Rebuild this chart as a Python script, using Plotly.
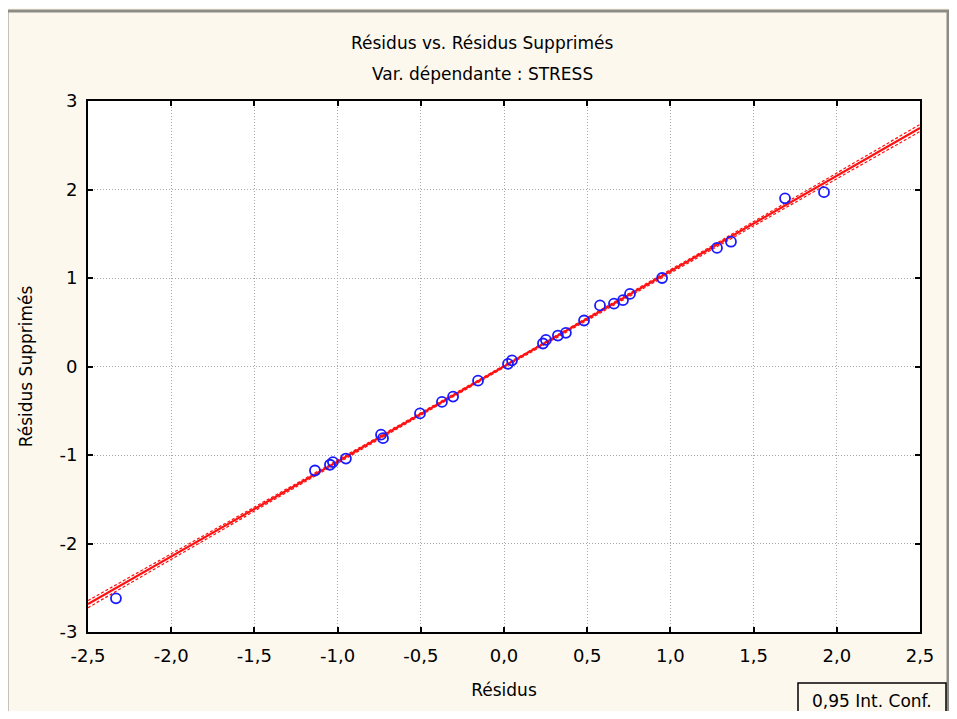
import plotly.graph_objects as go

# Observed points (Résidus, Résidus Supprimés)
residus = [-2.332, -1.136, -1.046, -1.028, -0.950, -0.739, -0.727, -0.505, -0.373,
           -0.306, -0.156, 0.024, 0.048, 0.234, 0.252, 0.324, 0.372, 0.481, 0.577,
           0.661, 0.715, 0.757, 0.950, 1.280, 1.364, 1.689, 1.923]
residus_suppr = [-2.62, -1.175, -1.11, -1.08, -1.04, -0.77, -0.81, -0.53, -0.40,
                 -0.34, -0.16, 0.03, 0.07, 0.26, 0.30, 0.35, 0.38, 0.52, 0.69,
                 0.71, 0.75, 0.82, 1.00, 1.34, 1.41, 1.90, 1.97]

# Regression line and 0.95 confidence band
fit_x = [-2.5, -1.25, 0.0, 1.25, 2.5]
fit_y = [-2.685, -1.343, 0.0, 1.345, 2.695]
band_lo = [-2.725, -1.362, -0.012, 1.326, 2.655]
band_hi = [-2.645, -1.324, 0.012, 1.364, 2.735]

x_ticks = [-2.5, -2.0, -1.5, -1.0, -0.5, 0.0, 0.5, 1.0, 1.5, 2.0, 2.5]
x_ticklabels = ["-2,5", "-2,0", "-1,5", "-1,0", "-0,5", "0,0", "0,5", "1,0", "1,5", "2,0", "2,5"]
y_ticks = [-3, -2, -1, 0, 1, 2, 3]
y_ticklabels = ["-3", "-2", "-1", "0", "1", "2", "3"]

FONT = "DejaVu Sans, Verdana, sans-serif"
RED = "#ff1010"

# window-pixel -> paper helpers (page body has an 8px margin)
PL, PR, PT, PB = 88, 920, 101, 632
def px(x):
    return (x - PL) / (PR - PL)
def py(y):
    return (PB - y) / (PB - PT)

fig = go.Figure()
fig.add_trace(go.Scatter(x=fit_x, y=band_lo, mode="lines",
                         line=dict(color=RED, width=1.2, dash="3px,2px"), showlegend=False, hoverinfo="skip"))
fig.add_trace(go.Scatter(x=fit_x, y=band_hi, mode="lines",
                         line=dict(color=RED, width=1.2, dash="3px,2px"), showlegend=False, hoverinfo="skip"))
fig.add_trace(go.Scatter(x=fit_x, y=fit_y, mode="lines",
                         line=dict(color=RED, width=2.2), showlegend=False))
fig.add_trace(go.Scatter(x=residus, y=residus_suppr, mode="markers",
                         marker=dict(symbol="circle-open", size=10, color="#1a1aff",
                                     line=dict(width=1.8, color="#1a1aff")),
                         showlegend=False))

axis_common = dict(showline=True, linecolor="black", linewidth=2, mirror="ticks",
                   ticks="inside", ticklen=5, tickcolor="black", tickwidth=2,
                   showgrid=True, gridcolor="#a8a8a8", griddash="1px,2px", gridwidth=1,
                   zeroline=False, tickfont=dict(family=FONT, size=18, color="black"))

fig.update_xaxes(range=[-2.5, 2.5], tickmode="array", tickvals=x_ticks, ticktext=x_ticklabels,
                 ticklabelstandoff=6,
                 title=dict(text="Résidus", font=dict(family=FONT, size=17, color="black"), standoff=20),
                 **axis_common)
fig.update_yaxes(range=[-3, 3], tickmode="array", tickvals=y_ticks, ticktext=y_ticklabels,
                 ticklabelstandoff=5,
                 title=dict(text="Résidus Supprimés", font=dict(family=FONT, size=17, color="black"), standoff=22),
                 **axis_common)

fig.update_layout(
    width=941, height=703,
    margin=dict(l=PL - 8, r=949 - PR, t=PT - 8, b=711 - PB),
    paper_bgcolor="#fdf8ee", plot_bgcolor="white",
    font=dict(family=FONT, color="black"),
    annotations=[
        dict(text="Résidus vs. Résidus Supprimés", x=px(482), y=py(43), xref="paper", yref="paper",
             xanchor="center", yanchor="middle", showarrow=False,
             font=dict(family=FONT, size=17, color="black")),
        dict(text="Var. dépendante : STRESS", x=px(482), y=py(74), xref="paper", yref="paper",
             xanchor="center", yanchor="middle", showarrow=False,
             font=dict(family=FONT, size=17, color="black")),
        dict(text="0,95 Int. Conf.", x=px(872), y=py(701), xref="paper", yref="paper",
             xanchor="center", yanchor="middle", showarrow=False,
             font=dict(family=FONT, size=17, color="black")),
    ],
    shapes=[
        # outer window frame
        dict(type="rect", xref="paper", yref="paper", x0=px(7), x1=px(948),
             y0=py(740), y1=py(11), line=dict(color="#8c8c84", width=3)),
        # legend box
        dict(type="rect", xref="paper", yref="paper", x0=px(798), x1=px(946),
             y0=py(740), y1=py(683), line=dict(color="black", width=1.5)),
    ],
)

fig.write_html("out.html")
